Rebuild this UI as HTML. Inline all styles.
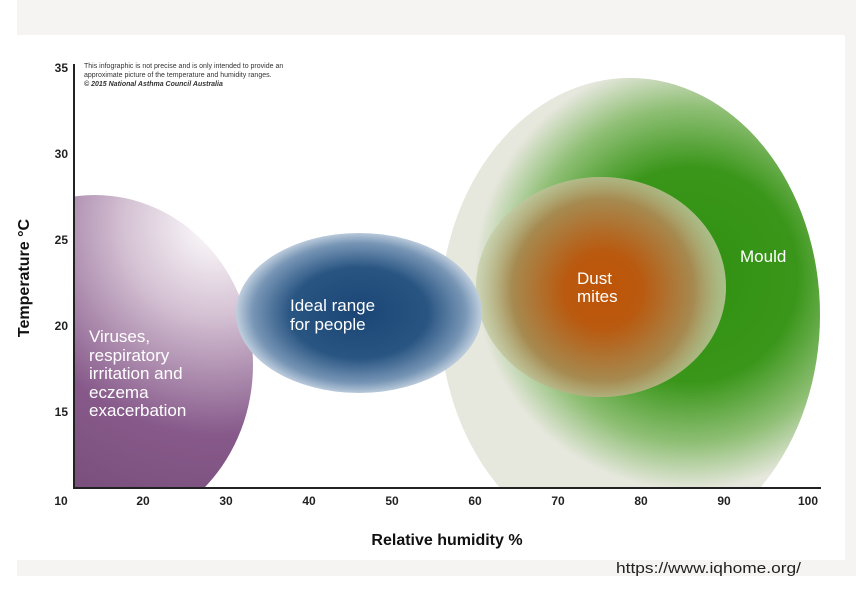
<!DOCTYPE html>
<html><head><meta charset="utf-8"><style>
body{margin:0;background:#fff;width:856px;height:589px;overflow:hidden;font-family:"Liberation Sans",Arial,sans-serif}
</style></head><body>
<svg width="856" height="589" viewBox="0 0 856 589" xmlns="http://www.w3.org/2000/svg">
<defs>
<radialGradient id="pur" cx="215" cy="225" r="300" gradientUnits="userSpaceOnUse">
<stop offset="0" stop-color="#ffffff"/><stop offset="0.3" stop-color="#d5c2d4"/><stop offset="0.7" stop-color="#86598a"/><stop offset="1" stop-color="#7a4f7c"/>
</radialGradient>
<radialGradient id="blu" cx="359" cy="313" r="125" gradientUnits="userSpaceOnUse" gradientTransform="translate(359 313) scale(1 0.66) translate(-359 -313)">
<stop offset="0" stop-color="#1a4575"/><stop offset="0.55" stop-color="#295582"/><stop offset="0.85" stop-color="#7896b6"/><stop offset="1" stop-color="#c9d6e3"/>
</radialGradient>
<radialGradient id="grn" cx="690" cy="275" r="215" gradientUnits="userSpaceOnUse">
<stop offset="0" stop-color="#2f9010"/><stop offset="0.5" stop-color="#3a961a"/><stop offset="0.78" stop-color="#8fbf75"/><stop offset="1" stop-color="#e6e7dd"/>
</radialGradient>
<radialGradient id="dst" cx="603" cy="290" r="130" gradientUnits="userSpaceOnUse">
<stop offset="0" stop-color="#bf5406"/><stop offset="0.3" stop-color="#b95a10"/><stop offset="0.7" stop-color="#a68a50"/><stop offset="1" stop-color="#c8d3b0" stop-opacity="0.5"/>
</radialGradient>
<clipPath id="plot"><rect x="75" y="40" width="770" height="448"/></clipPath>
</defs>
<rect x="17" y="0" width="839" height="35" fill="#f5f4f2"/>
<rect x="17" y="560" width="839" height="16" fill="#f5f4f2"/>
<rect x="845" y="35" width="11" height="525" fill="#f5f4f2"/>
<g clip-path="url(#plot)">
<ellipse cx="95" cy="365" rx="158" ry="170" fill="url(#pur)"/>
<ellipse cx="630" cy="315" rx="190" ry="237" fill="#e6e6dc"/>
<ellipse cx="630" cy="315" rx="190" ry="237" fill="url(#grn)"/>
<ellipse cx="601" cy="287" rx="125" ry="110" fill="#c6d5b0" opacity="0.55"/>
<ellipse cx="601" cy="287" rx="125" ry="110" fill="url(#dst)"/>
<ellipse cx="359" cy="313" rx="123" ry="80" fill="url(#blu)"/>
</g>
<line x1="74" y1="64" x2="74" y2="489" stroke="#222" stroke-width="2"/>
<line x1="73" y1="488" x2="821" y2="488" stroke="#222" stroke-width="2"/>
<g font-weight="bold" font-size="12" fill="#222" text-anchor="middle">
<text x="61" y="505">10</text><text x="143" y="505">20</text><text x="226" y="505">30</text><text x="309" y="505">40</text><text x="392" y="505">50</text><text x="475" y="505">60</text><text x="558" y="505">70</text><text x="641" y="505">80</text><text x="724" y="505">90</text><text x="808" y="505">100</text>
</g>
<g font-weight="bold" font-size="12" fill="#222" text-anchor="end">
<text x="68" y="72">35</text><text x="68" y="158">30</text><text x="68" y="244">25</text><text x="68" y="330">20</text><text x="68" y="416">15</text>
</g>
<text x="447" y="545" font-weight="bold" font-size="16" fill="#111" text-anchor="middle">Relative humidity %</text>
<text transform="translate(29 278) rotate(-90)" font-weight="bold" font-size="16" fill="#111" text-anchor="middle">Temperature °C</text>
<g font-size="7" fill="#333">
<text x="84" y="68">This infographic is not precise and is only intended to provide an</text>
<text x="84" y="77">approximate picture of the temperature and humidity ranges.</text>
<text x="84" y="86" font-weight="bold" font-style="italic">© 2015 National Asthma Council Australia</text>
</g>
<g fill="#fff" font-size="17">
<text x="89" y="342">Viruses,</text><text x="89" y="361">respiratory</text><text x="89" y="379">irritation and</text><text x="89" y="398">eczema</text><text x="89" y="416">exacerbation</text>
<text x="290" y="311">Ideal range</text><text x="290" y="330">for people</text>
<text x="577" y="284">Dust</text><text x="577" y="302">mites</text>
<text x="740" y="262">Mould</text>
</g>
<text x="616" y="573" font-size="15" fill="#222" textLength="185" lengthAdjust="spacingAndGlyphs">https://www.iqhome.org/</text>
</svg>
</body></html>
